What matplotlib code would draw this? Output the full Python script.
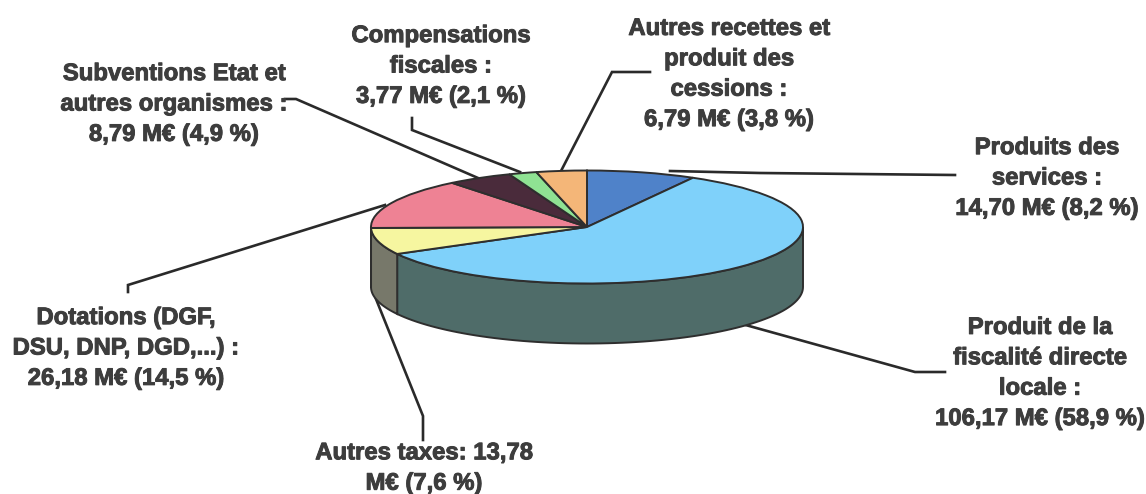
import numpy as np
import matplotlib
matplotlib.use("Agg")
import matplotlib.pyplot as plt
import matplotlib.patheffects as pe

plt.rcParams['font.family'] = ['Liberation Sans', 'DejaVu Sans']

categories = ["Produits des services", "Produit de la fiscalité directe locale", "Autres taxes",
              "Dotations", "Subventions Etat et autres organismes", "Compensations fiscales",
              "Autres recettes et produit des cessions"]
values = [14.70, 106.17, 13.78, 26.18, 8.79, 3.77, 6.79]
top_colors = ["#4f82c9", "#7fd1fa", "#f6f6a0", "#ee8294", "#4a2b3b", "#8fe293", "#f4b678"]
wall_colors = ["#35577f", "#4f6c69", "#77786a", "#8a4f5a", "#2c1a24", "#5a8a5c", "#94704a"]
labels = [
    "Produits des\nservices :\n14,70 M€ (8,2 %)",
    "Produit de la\nfiscalité directe\nlocale :\n106,17 M€ (58,9 %)",
    "Autres taxes: 13,78\nM€ (7,6 %)",
    "Dotations (DGF,\nDSU, DNP, DGD,...) :\n26,18 M€ (14,5 %)",
    "Subventions Etat et\nautres organismes :\n8,79 M€ (4,9 %)",
    "Compensations\nfiscales :\n3,77 M€ (2,1 %)",
    "Autres recettes et\nproduit des\ncessions :\n6,79 M€ (3,8 %)",
]
label_xy = [(1047, 178), (1040, 373), (424, 468), (126, 348), (174, 104), (441, 66), (729, 74)]
leaders = [
    [(670, 171), (760, 173), (955, 175)],
    [(742, 324), (915, 372), (945, 372)],
    [(376, 299), (423, 416), (423, 440)],
    [(385, 205), (128, 285), (128, 292)],
    [(285, 99), (296, 99), (478, 178)],
    [(412, 118), (412, 130), (520, 172)],
    [(650, 72), (612, 72), (561, 171)],
]

W, H = 1146, 494
CX, CY, RX, RY, DEPTH = 587, 227, 216, 56.5, 60
TEXT = "#3d3d3d"
EDGE = "#2e2e2e"

fig = plt.figure(figsize=(W / 100, H / 100), dpi=100, facecolor="white")

over = fig.add_axes([0, 0, 1, 1])
over.set_xlim(0, W)
over.set_ylim(H, 0)
over.axis("off")

# Pie axes: unit circle maps to the ellipse, extended below for the wall
d = DEPTH / RY
left, right = CX - RX, CX + RX
top, bottom = CY - RY, CY + RY + DEPTH
ax = fig.add_axes([left / W, 1 - bottom / H, (right - left) / W, (bottom - top) / H], zorder=2)
ax.patch.set_alpha(0)

fractions = np.array(values) / sum(values)
edges = 90 - 360 * np.concatenate([[0], np.cumsum(fractions)])
for i in range(len(values)):
    hi, lo = edges[i], edges[i + 1]
    for shift in (0, 360):
        a = max(lo + shift, 180)
        b = min(hi + shift, 360)
        if b > a:
            t = np.radians(np.linspace(a, b, 80))
            xs = np.cos(t)
            ys = np.sin(t)
            ax.fill(np.r_[xs, xs[::-1]], np.r_[ys, ys[::-1] - d],
                    facecolor=wall_colors[i], edgecolor=EDGE, linewidth=1.4)

ax.pie(values, colors=top_colors, startangle=90, counterclock=False, radius=1,
       wedgeprops=dict(edgecolor=EDGE, linewidth=1.4), normalize=True)
ax.set_aspect("auto")
ax.set_xlim(-1, 1)
ax.set_ylim(-1 - d, 1)
ax.set_frame_on(False)
for art in ax.patches + ax.collections:
    art.set_clip_on(False)

for pts in leaders:
    xs, ys = zip(*pts)
    over.plot(xs, ys, color="#2a2a2a", lw=1.9, solid_joinstyle="miter", zorder=1)

for text, (x, y) in zip(labels, label_xy):
    over.text(x, y, text, ha="center", va="center", fontsize=17.2, fontweight="bold",
              color=TEXT, linespacing=1.41,
              path_effects=[pe.withStroke(linewidth=0.7, foreground=TEXT)])

fig.savefig("out.png", dpi=100, facecolor="white")
